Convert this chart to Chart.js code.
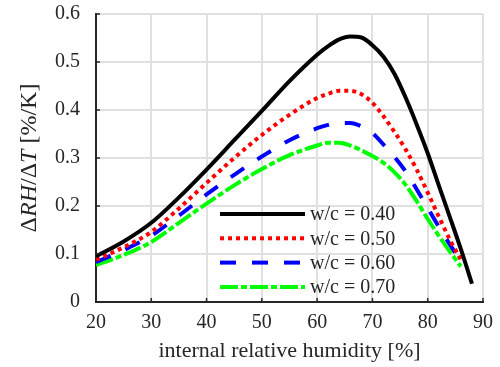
<!DOCTYPE html>
<html>
<head>
<meta charset="utf-8">
<script src="https://cdn.jsdelivr.net/npm/chart.js@4.4.1/dist/chart.umd.min.js"></script>
<style>
html,body{margin:0;padding:0;background:#fff;}
#wrap{width:500px;height:367px;position:relative;}
</style>
</head>
<body>
<div id="wrap"><canvas id="c" width="500" height="367"></canvas></div>
<script>
const humidity = [20,25,30,35,40,45,50,55,60,62,64,66,68,70,72,74,76,78,80,82,84,86,88];
const wc040 = [0.095,0.126,0.165,0.218,0.276,0.337,0.398,0.46,0.515,0.533,0.547,0.553,0.551,0.535,0.511,0.475,0.426,0.37,0.31,0.243,0.177,0.11,0.038];
const wc050 = [0.088,0.114,0.146,0.195,0.248,0.3,0.348,0.39,0.425,0.434,0.44,0.44,0.433,0.415,0.387,0.354,0.318,0.276,0.228,0.178,0.13,0.088,null];
const wc060 = [0.083,0.108,0.138,0.18,0.224,0.265,0.303,0.337,0.362,0.369,0.373,0.373,0.366,0.352,0.328,0.302,0.272,0.235,0.196,0.157,0.12,0.085,null];
const wc070 = [0.077,0.098,0.125,0.165,0.205,0.243,0.277,0.306,0.326,0.332,0.332,0.326,0.316,0.304,0.29,0.27,0.244,0.21,0.173,0.138,0.105,0.074,null];
const seriesLabels = ['w/c = 0.40','w/c = 0.50','w/c = 0.60','w/c = 0.70'];
const xTicks = [20,30,40,50,60,70,80,90];
const yTicks = [0,0.1,0.2,0.3,0.4,0.5,0.6];
const xTitle = 'internal relative humidity [%]';
const yTitleParts = [['Δ',''],['RH','italic '],['/Δ',''],['T','italic '],[' [%/K]','']];

const series = [wc040, wc050, wc060, wc070];
const colors = ['#000000','#ff0000','#0000ff','#00ff00'];
const dashes = [[],[4,4],[16,16],[18,3,6,3]];

const datasets = series.map((s,i)=>({
  label: seriesLabels[i],
  data: humidity.map((h,j)=>({x:h, y:s[j]})).filter(p=>p.y!==null),
  borderColor: colors[i],
  borderWidth: 4,
  borderDash: dashes[i],
  borderCapStyle: 'butt',
  pointRadius: 0,
  fill: false,
  cubicInterpolationMode: 'monotone'
}));

const textColor = '#262626';
const serif = '"Liberation Serif", "Times New Roman", serif';

const decor = {
  id: 'decor',
  afterDraw(chart){
    const {ctx, chartArea:a, scales:{x,y}} = chart;
    ctx.save();
    ctx.strokeStyle = textColor; ctx.lineWidth = 1.5; ctx.setLineDash([]);
    x.ticks.forEach(t=>{const px=x.getPixelForValue(t.value);ctx.beginPath();ctx.moveTo(px,a.bottom);ctx.lineTo(px,a.bottom-4);ctx.stroke();});
    y.ticks.forEach(t=>{const py=y.getPixelForValue(t.value);ctx.beginPath();ctx.moveTo(a.left,py);ctx.lineTo(a.left+4,py);ctx.stroke();});
    // legend
    chart.data.datasets.forEach((ds,i)=>{
      const yy = a.top + 200 + i*24.3;
      ctx.setLineDash(ds.borderDash||[]);
      ctx.lineWidth = ds.borderWidth; ctx.strokeStyle = ds.borderColor; ctx.lineCap='butt';
      ctx.beginPath(); ctx.moveTo(a.left+124, yy); ctx.lineTo(a.left+209, yy); ctx.stroke();
      ctx.setLineDash([]);
      ctx.fillStyle = textColor; ctx.font = '20px '+serif; ctx.textBaseline='middle'; ctx.textAlign='left';
      ctx.fillText(ds.label, a.left+214, yy+1);
    });
    // y title
    ctx.translate(30, (a.top+a.bottom)/2);
    ctx.rotate(-Math.PI/2);
    ctx.textBaseline='middle'; ctx.fillStyle=textColor;
    let total=0;
    yTitleParts.forEach(p=>{ctx.font=p[1]+'24px '+serif; total+=ctx.measureText(p[0]).width;});
    let cx=-total/2;
    yTitleParts.forEach(p=>{ctx.font=p[1]+'24px '+serif; ctx.fillText(p[0],cx,0); cx+=ctx.measureText(p[0]).width;});
    ctx.restore();
  }
};

new Chart(document.getElementById('c'), {
  type: 'line',
  data: { datasets },
  options: {
    responsive: false,
    animation: false,
    devicePixelRatio: 1,
    layout: { padding: { left: 0, right: 17, top: 14, bottom: 0 } },
    plugins: { legend: { display: false }, tooltip: { enabled: false } },
    scales: {
      x: {
        type: 'linear', min: 20, max: 90,
        afterBuildTicks: s => { s.ticks = xTicks.map(v=>({value:v})); },
        afterFit: s => { s.height = 65; s.paddingLeft = 0; s.paddingRight = 0; },
        grid: { color: '#e0e0e0', lineWidth: 2, drawTicks: false },
        border: { display: true, color: textColor, width: 2 },
        ticks: { color: textColor, font: { family: serif, size: 20 }, padding: 9, maxRotation: 0 },
        title: { display: true, text: xTitle, color: textColor, font: { family: serif, size: 22 }, padding: { top: 0, bottom: 3 } }
      },
      y: {
        type: 'linear', min: 0, max: 0.6,
        afterBuildTicks: s => { s.ticks = yTicks.map(v=>({value:v})); },
        afterFit: s => { s.width = 96; s.paddingTop = 0; s.paddingBottom = 0; },
        grid: { color: '#e0e0e0', lineWidth: 2, drawTicks: false },
        border: { display: true, color: textColor, width: 2 },
        ticks: { color: textColor, font: { family: serif, size: 20 }, padding: 16 }
      }
    }
  },
  plugins: [decor]
});
</script>
</body>
</html>
